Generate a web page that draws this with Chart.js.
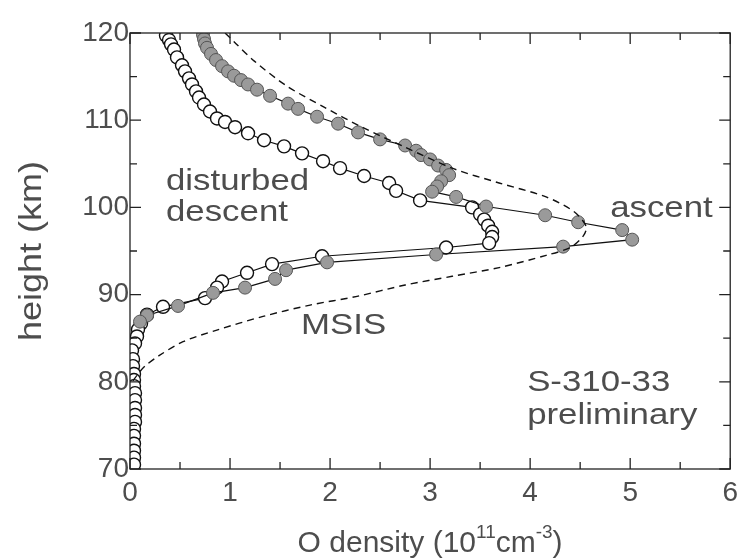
<!DOCTYPE html>
<html>
<head>
<meta charset="utf-8">
<script src="https://cdn.jsdelivr.net/npm/chart.js@4"></script>
<style>
  body { margin: 0; background: #fff; }
  #wrap { width: 745px; height: 559px; }
</style>
</head>
<body>
<div id="wrap"><canvas id="densityChart" width="745" height="559"></canvas></div>
<script>
// O density (1e11 cm^-3) vs height (km)
const descentX = [0.36, 0.39, 0.41, 0.44, 0.47, 0.52, 0.55, 0.59, 0.62, 0.66, 0.69, 0.74, 0.80, 0.87, 0.95, 1.05,
  1.18, 1.34, 1.54, 1.72, 1.93, 2.10, 2.34, 2.59, 2.66, 2.90, 3.42, 3.50, 3.54, 3.58, 3.62, 3.62, 3.59, 3.16,
  1.92, 1.42, 1.17, 0.92, 0.87, 0.75, 0.33, 0.17, 0.11, 0.08, 0.07, 0.05, 0.02,
  0.03, 0.03, 0.04, 0.04, 0.04, 0.05, 0.05, 0.05, 0.05, 0.05, 0.04, 0.04, 0.04, 0.04, 0.04, 0.04];
const descentH = [119.7, 119.2, 118.7, 118.1, 117.2, 116.3, 115.6, 114.8, 114.1, 113.3, 112.6, 111.8, 111.0, 110.2, 109.8, 109.2,
  108.5, 107.7, 107.0, 106.2, 105.3, 104.5, 103.6, 102.8, 101.9, 100.8, 100.0, 99.2, 98.6, 97.9, 97.2, 96.6, 95.9, 95.4,
  94.4, 93.5, 92.5, 91.5, 90.8, 89.6, 88.6, 87.7, 86.7, 86.0, 85.2, 84.4, 83.6,
  82.6, 81.8, 80.9, 80.2, 79.5, 78.7, 77.9, 77.0, 76.2, 75.4, 74.6, 73.8, 72.9, 72.1, 71.3, 70.5];

const ascentX = [0.73, 0.74, 0.75, 0.77, 0.81, 0.86, 0.92, 0.98, 1.04, 1.11, 1.18, 1.27, 1.40, 1.58, 1.68, 1.87,
  2.08, 2.28, 2.50, 2.75, 2.86, 2.91, 3.00, 3.08, 3.16, 3.19, 3.11, 3.07, 3.02, 3.26, 3.56, 4.15, 4.48, 4.92,
  5.02, 4.33, 3.06, 1.97, 1.56, 1.45, 1.15, 0.83, 0.48, 0.17, 0.10];
const ascentH = [119.8, 119.3, 118.8, 118.3, 117.6, 116.9, 116.2, 115.6, 115.1, 114.6, 114.1, 113.5, 112.8, 111.9, 111.3, 110.4,
  109.6, 108.6, 107.8, 107.1, 106.5, 106.0, 105.5, 104.8, 104.3, 103.7, 103.0, 102.4, 101.8, 101.2, 100.1, 99.1, 98.3, 97.4,
  96.3, 95.5, 94.6, 93.7, 92.8, 91.8, 90.8, 90.2, 88.7, 87.6, 86.9];

const msisX = [0.95, 1.04, 1.24, 1.57, 1.94, 2.32, 2.75, 3.22, 3.69, 4.16, 4.44, 4.56, 4.53, 4.40, 4.16, 3.69,
  3.22, 2.75, 2.27, 1.80, 1.33, 0.86, 0.53, 0.29, 0.15, 0.08, 0.03];
const msisH = [120.0, 119.0, 116.8, 113.9, 111.5, 109.2, 106.9, 104.5, 102.8, 101.2, 99.5, 97.8, 96.7, 95.4, 94.5, 93.1,
  92.1, 91.1, 89.8, 88.8, 87.5, 85.9, 84.6, 83.0, 81.8, 80.9, 80.1];

const xTicks = [0, 1, 2, 3, 4, 5, 6];
const yTicks = [70, 80, 90, 100, 110, 120];

// labels placed in data coordinates [x, h]
const notes = [
  { text: 'disturbed', x: 0.36, h: 103.0 },
  { text: 'descent', x: 0.36, h: 99.4 },
  { text: 'ascent', x: 4.8, h: 99.9 },
  { text: 'MSIS', x: 1.71, h: 86.4 },
  { text: 'S-310-33', x: 3.97, h: 79.9 },
  { text: 'preliminary', x: 3.97, h: 76.1 }
];

const pts = (xs, hs) => xs.map((v, i) => ({ x: v, y: hs[i] }));
const FONT = '"Liberation Sans", Arial, sans-serif';
const GREY_TXT = '#4d4d4d';
const STRETCH = 1.16; // the lettering in the figure is a bit wide

// frame with inward ticks on all four sides + text labels
const framePlugin = {
  id: 'frame',
  afterDatasetsDraw(chart) {
    const { ctx, chartArea: a, scales: { x, y } } = chart;
    ctx.save();
    ctx.strokeStyle = '#222';
    ctx.lineWidth = 1.3;
    ctx.strokeRect(a.left, a.top, a.right - a.left, a.bottom - a.top);
    ctx.beginPath();
    for (let v = 0; v <= 6.001; v += 0.5) {
      const px = x.getPixelForValue(v);
      const len = Math.abs(v - Math.round(v)) < 1e-6 ? 11 : 7;
      ctx.moveTo(px, a.bottom); ctx.lineTo(px, a.bottom - len);
      ctx.moveTo(px, a.top); ctx.lineTo(px, a.top + len);
    }
    for (let v = 70; v <= 120.001; v += 5) {
      const py = y.getPixelForValue(v);
      const len = v % 10 === 0 ? 11 : 7;
      ctx.moveTo(a.left, py); ctx.lineTo(a.left + len, py);
      ctx.moveTo(a.right, py); ctx.lineTo(a.right - len, py);
    }
    ctx.stroke();

    ctx.fillStyle = GREY_TXT;
    ctx.font = '30px ' + FONT;
    ctx.textBaseline = 'middle';
    ctx.textAlign = 'left';
    notes.forEach(n => {
      ctx.save();
      ctx.translate(x.getPixelForValue(n.x), y.getPixelForValue(n.h));
      ctx.scale(STRETCH, 1);
      ctx.fillText(n.text, 0, 0);
      ctx.restore();
    });
    ctx.restore();
  }
};

const titles = {
  id: 'titles',
  afterDraw(chart) {
    const { ctx, chartArea: a } = chart;
    ctx.save();
    ctx.fillStyle = GREY_TXT;
    // y title
    ctx.translate(32, (a.top + a.bottom) / 2);
    ctx.rotate(-Math.PI / 2);
    ctx.scale(STRETCH, 1);
    ctx.textAlign = 'center';
    ctx.textBaseline = 'middle';
    ctx.font = '31px ' + FONT;
    ctx.fillText('height (km)', 0, 0);
    ctx.setTransform(1, 0, 0, 1, 0, 0);
    // x title with superscripts
    ctx.textBaseline = 'alphabetic';
    ctx.textAlign = 'left';
    const cx = (a.left + a.right) / 2;
    const base = 552;
    const p1 = 'O density (10', p2 = 'cm', p4 = ')';
    ctx.font = '19px ' + FONT;
    const w11 = ctx.measureText('11').width, w3 = ctx.measureText('-3').width;
    ctx.font = '30px ' + FONT;
    const w1 = ctx.measureText(p1).width, w2 = ctx.measureText(p2).width, w4 = ctx.measureText(p4).width;
    let px = cx - (w1 + w11 + w2 + w3 + w4) / 2;
    ctx.fillText(p1, px, base); px += w1;
    ctx.font = '19px ' + FONT; ctx.fillText('11', px, base - 14); px += w11;
    ctx.font = '30px ' + FONT; ctx.fillText(p2, px, base); px += w2;
    ctx.font = '19px ' + FONT; ctx.fillText('-3', px, base - 14); px += w3;
    ctx.font = '30px ' + FONT; ctx.fillText(p4, px, base);
    ctx.restore();
  }
};

new Chart(document.getElementById('densityChart').getContext('2d'), {
  type: 'scatter',
  data: {
    datasets: [{
      label: 'MSIS',
      data: pts(msisX, msisH),
      showLine: true,
      borderColor: '#111',
      borderWidth: 1.4,
      borderDash: [7, 5],
      pointRadius: 0,
      tension: 0.3
    }, {
      label: 'ascent',
      data: pts(ascentX, ascentH),
      showLine: true,
      borderColor: '#111',
      borderWidth: 1.2,
      backgroundColor: '#9a9a9a',
      pointBorderColor: '#555',
      pointBorderWidth: 1,
      pointRadius: 6.5
    }, {
      label: 'disturbed descent',
      data: pts(descentX, descentH),
      showLine: true,
      borderColor: '#111',
      borderWidth: 1.2,
      backgroundColor: '#fff',
      pointBorderColor: '#111',
      pointBorderWidth: 1.4,
      pointRadius: 6.5
    }]
  },
  options: {
    responsive: false,
    animation: false,
    layout: { padding: { left: 0, right: 8, top: 33, bottom: 0 } },
    plugins: { legend: { display: false }, tooltip: { enabled: false } },
    scales: {
      x: {
        type: 'linear', min: 0, max: 6,
        afterBuildTicks: s => { s.ticks = xTicks.map(v => ({ value: v })); },
        afterFit: s => { s.height = 90; },
        grid: { display: false, drawTicks: false },
        border: { display: false },
        ticks: { color: GREY_TXT, font: { size: 28, family: FONT }, padding: 7, maxRotation: 0 }
      },
      y: {
        type: 'linear', min: 70, max: 120,
        afterBuildTicks: s => { s.ticks = yTicks.map(v => ({ value: v })); },
        afterFit: s => { s.width = 130; },
        grid: { display: false, drawTicks: false },
        border: { display: false },
        ticks: { color: GREY_TXT, font: { size: 28, family: FONT }, padding: 1 }
      }
    }
  },
  plugins: [framePlugin, titles]
});
</script>
</body>
</html>
